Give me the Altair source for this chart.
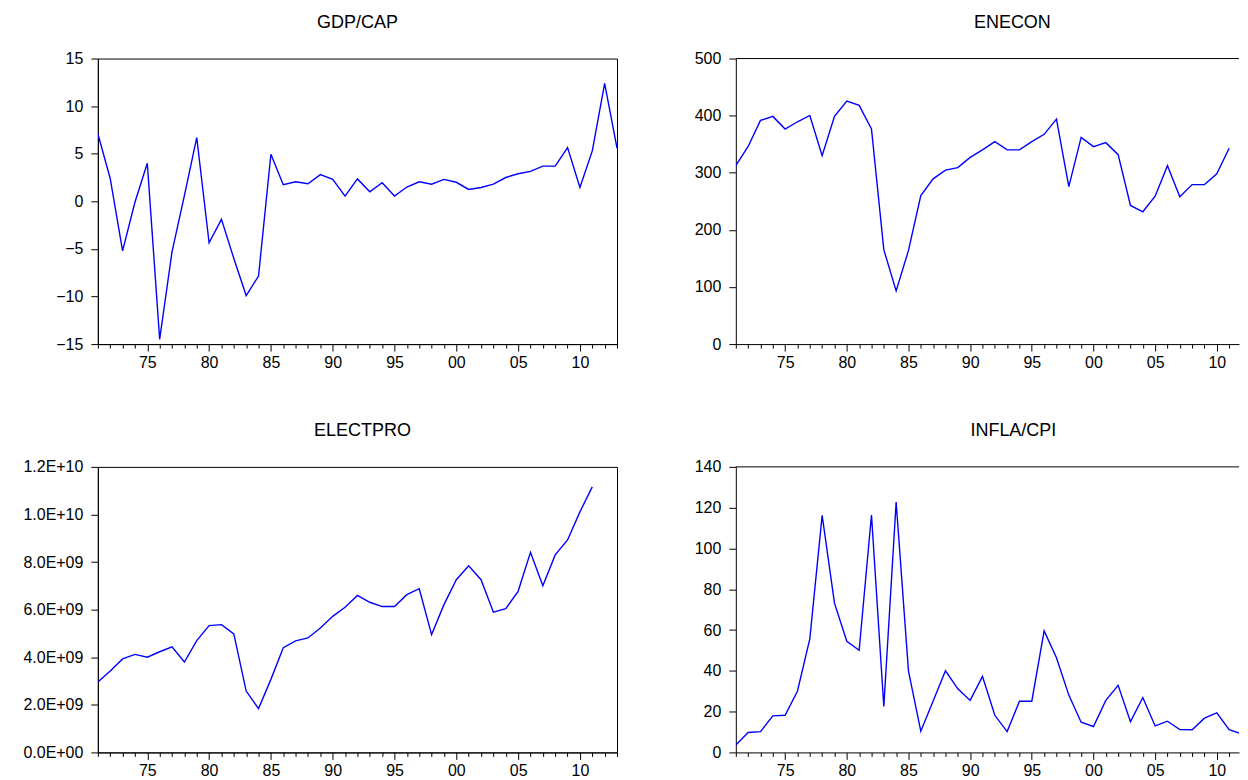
import altair as alt
import pandas as pd

years_full = list(range(1971, 2014))   # 1971-2013
years_short = list(range(1971, 2012))  # 1971-2011

gdp_cap = [7.1, 2.4, -5.2, -0.1, 4.0, -14.5, -5.3, 0.6, 6.7, -4.35,
           -1.9, -6.0, -9.9, -7.85, 4.95, 1.75, 2.05, 1.85, 2.8, 2.3,
           0.55, 2.35, 1.0, 1.95, 0.55, 1.5, 2.05, 1.8, 2.3, 2.0,
           1.25, 1.45, 1.8, 2.5, 2.9, 3.15, 3.7, 3.7, 5.65, 1.45,
           5.3, 12.4, 5.6]

enecon = [312.6, 346.0, 391.7, 398.7, 376.6, 389.3, 400.4, 330.0, 398.7, 425.4,
          418.0, 376.6, 165.3, 93.2, 164.0, 260.0, 289.3, 304.5, 309.0, 327.0,
          340.0, 354.4, 340.0, 340.0, 354.4, 367.3, 394.0, 275.8, 362.0, 345.7,
          352.7, 331.7, 242.7, 231.7, 259.0, 312.5, 257.8, 279.3, 279.3, 298.0,
          342.8]

electpro = [2.96e9, 3.42e9, 3.93e9, 4.12e9, 4.00e9, 4.23e9, 4.44e9, 3.80e9, 4.70e9, 5.33e9,
            5.37e9, 4.98e9, 2.58e9, 1.84e9, 3.07e9, 4.40e9, 4.69e9, 4.81e9, 5.23e9, 5.72e9,
            6.10e9, 6.60e9, 6.31e9, 6.13e9, 6.13e9, 6.63e9, 6.88e9, 4.95e9, 6.21e9, 7.26e9,
            7.84e9, 7.26e9, 5.89e9, 6.04e9, 6.77e9, 8.41e9, 7.00e9, 8.30e9, 8.93e9, 10.11e9,
            11.16e9]

infla_cpi = [3.6, 9.8, 10.2, 17.9, 18.2, 30.1, 55.7, 116.2, 73.2, 54.5,
             50.1, 116.4, 22.5, 122.7, 39.9, 10.4, 25.2, 40.0, 31.2, 25.5,
             37.3, 18.2, 10.2, 25.1, 25.1, 59.6, 46.4, 28.1, 14.8, 12.7,
             25.5, 32.9, 15.1, 26.9, 13.0, 15.3, 11.2, 11.1, 16.8, 19.4,
             11.1, 9.1, 9.0]

FONT = "Liberation Sans"
BLUE = "#0000FF"
LBL = 16
PW_L = 520
PW_R = 504
PH = 286
XMAX_R = 2011.8


def x_axis(max_year):
    return alt.Axis(
        values=list(range(1971, max_year + 1)),
        labelExpr="datum.value % 5 === 0 ? slice(toString(datum.value), 2) : ''",
        tickSize={"condition": {"test": "datum.value % 5 === 0", "value": 7}, "value": 4},
        labelOverlap=False, labelFlush=False, grid=False, title=None,
        labelPadding=3, labelFont=FONT, labelFontSize=LBL, labelColor="black",
        domainColor="black", tickColor="black",
    )


def panel(years, values, title, ymin, ymax, ystep, right=False, label_expr=None, title_dx=0):
    df = pd.DataFrame({"year": years, "value": values})
    xmax = XMAX_R if right else 2013
    ticks = []
    v = ymin
    while v <= ymax + 1e-9:
        ticks.append(v)
        v += ystep
    yaxis_kwargs = dict(values=ticks, grid=False, title=None, tickSize=7, labelPadding=8,
                        labelFont=FONT, labelFontSize=LBL, labelColor="black",
                        domainColor="black", tickColor="black")
    if label_expr:
        yaxis_kwargs["labelExpr"] = label_expr
    line = alt.Chart(df).mark_line(color=BLUE, strokeWidth=1.4, clip=True).encode(
        x=alt.X("year:Q", scale=alt.Scale(domain=[1971, xmax], nice=False, zero=False),
                axis=x_axis(2011 if right else 2013)),
        y=alt.Y("value:Q", scale=alt.Scale(domain=[ymin, ymax], nice=False, zero=False),
                axis=alt.Axis(**yaxis_kwargs)),
    )
    layers = [line]
    if right:
        top = alt.Chart(pd.DataFrame({"v": [ymax]})).mark_rule(color="black", strokeWidth=1).encode(
            y=alt.Y("v:Q")
        )
        layers.append(top)
    ch = alt.layer(*layers).properties(
        width=PW_R if right else PW_L,
        height=PH,
        title=alt.TitleParams(title, font=FONT, fontSize=18, fontWeight="normal",
                              color="black", offset=1, baseline="bottom",
                              anchor="middle", dx=title_dx),
        view=alt.ViewBackground(stroke="transparent" if right else "black", strokeWidth=1),
    )
    return ch


sci_expr = ("datum.value == 0 ? '0.0E+00' : (datum.value >= 1e10 ? "
            "format(datum.value / 1e10, '.1f') + 'E+10' : "
            "format(datum.value / 1e9, '.1f') + 'E+09')")

tl = panel(years_full, gdp_cap, "GDP/CAP", -15, 15, 5)
tr = panel(years_short, enecon, "ENECON", 0, 500, 100, right=True, title_dx=25)
bl = panel(years_short, electpro, "ELECTPRO", 0, 1.2e10, 2e9, label_expr=sci_expr, title_dx=5)
br = panel(years_full, infla_cpi, "INFLA/CPI", 0, 140, 20, right=True, title_dx=26)

chart = alt.concat(tl, tr, bl, br, columns=2,
                   spacing={"row": 123, "column": 119},
                   bounds="flush").properties(
    padding={"left": 14, "top": 4, "right": 0, "bottom": 0},
    background="white",
)

chart.save("out.html", embed_options={"renderer": "svg", "actions": False})
